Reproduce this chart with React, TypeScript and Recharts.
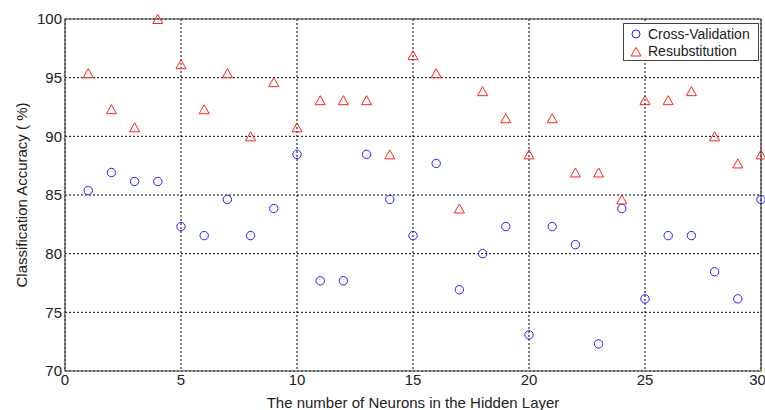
import {
  ScatterChart,
  Scatter,
  XAxis,
  YAxis,
  CartesianGrid,
  ReferenceArea,
} from "recharts";

const neurons = [
  1, 2, 3, 4, 5, 6, 7, 8, 9, 10, 11, 12, 13, 14, 15, 16, 17, 18, 19, 20, 21, 22,
  23, 24, 25, 26, 27, 28, 29, 30,
];

const crossValidation = [
  85.38, 86.92, 86.15, 86.15, 82.31, 81.54, 84.62, 81.54, 83.85, 88.46, 77.69,
  77.69, 88.46, 84.62, 81.54, 87.69, 76.92, 80.0, 82.31, 73.08, 82.31, 80.77,
  72.31, 83.85, 76.15, 81.54, 81.54, 78.46, 76.15, 84.62,
];

const resubstitution = [
  95.38, 92.31, 90.77, 100, 96.15, 92.31, 95.38, 90.0, 94.62, 90.77, 93.08,
  93.08, 93.08, 88.46, 96.92, 95.38, 83.85, 93.85, 91.54, 88.46, 91.54, 86.92,
  86.92, 84.62, 93.08, 93.08, 93.85, 90.0, 87.69, 88.46,
];

const xTicks = [0, 5, 10, 15, 20, 25, 30];
const yTicks = [70, 75, 80, 85, 90, 95, 100];

const FONT = "'Liberation Sans', Arial, sans-serif";
const BLUE = "#1f1fff";
const RED = "#ff1f1f";

const cvData = neurons.map((n, i) => ({ x: n, y: crossValidation[i] }));
const resubData = neurons.map((n, i) => ({ x: n, y: resubstitution[i] }));

function CircleMark(props: any) {
  const { cx, cy } = props;
  if (cx == null || cy == null) return null;
  return <circle cx={cx} cy={cy} r={4.2} fill="none" stroke={BLUE} strokeWidth={1} />;
}

function TriangleMark(props: any) {
  const { cx, cy } = props;
  if (cx == null || cy == null) return null;
  const w = 5;
  const h = 4.5;
  return (
    <path
      d={`M${cx},${cy - h} L${cx + w},${cy + h} L${cx - w},${cy + h} Z`}
      fill="none"
      stroke={RED}
      strokeWidth={1}
    />
  );
}

// legend drawn as an overlay so the chart doesn't reserve space for it
function LegendBox() {
  return (
    <div
      style={{
        position: "absolute",
        top: 23,
        left: 623,
        width: 136,
        height: 38,
        border: "1px solid #444",
        background: "#fff",
        boxSizing: "border-box",
      }}
    >
      <svg width={134} height={36} style={{ display: "block" }}>
        <circle cx={12} cy={10} r={4} fill="none" stroke={BLUE} />
        <text x={24} y={15} fontSize={14} fill="#222" fontFamily={FONT}>
          Cross-Validation
        </text>
        <path d="M12,23.5 L17,32 L7,32 Z" fill="none" stroke={RED} />
        <text x={24} y={32} fontSize={14} fill="#222" fontFamily={FONT}>
          Resubstitution
        </text>
      </svg>
    </div>
  );
}

export default function App() {
  return (
    <div
      style={{
        position: "relative",
        width: 765,
        height: 410,
        background: "#fff",
        overflow: "hidden",
      }}
    >
      <style>{`body{margin:0}`}</style>
      <ScatterChart
        width={765}
        height={410}
        margin={{ top: 19, right: 4, bottom: 0, left: 0 }}
      >
        <CartesianGrid stroke="#000" strokeDasharray="2 2" strokeWidth={1} />
        <XAxis
          type="number"
          dataKey="x"
          domain={[0, 30]}
          ticks={xTicks}
          height={39}
          tickSize={0}
          tickMargin={3}
          axisLine={false}
          tickLine={false}
          tick={{ fontSize: 15, fill: "#222", fontFamily: FONT }}
          label={{
            value: "The number of Neurons in the Hidden Layer",
            position: "insideBottom",
            offset: 2,
            fontSize: 15,
            fill: "#222",
            fontFamily: FONT,
          }}
        />
        <YAxis
          type="number"
          dataKey="y"
          domain={[70, 100]}
          ticks={yTicks}
          width={65}
          tickSize={0}
          tickMargin={3}
          axisLine={false}
          tickLine={false}
          tick={{ fontSize: 15, fill: "#222", fontFamily: FONT }}
          label={{
            value: "Classification Accuracy ( %)",
            angle: -90,
            position: "insideLeft",
            offset: 22,
            style: { textAnchor: "middle" },
            fontSize: 15,
            fill: "#222",
            fontFamily: FONT,
          }}
        />
        <ReferenceArea
          x1={0}
          x2={30}
          y1={70}
          y2={100}
          fill="none"
          fillOpacity={0}
          stroke="#444"
          strokeWidth={1.2}
          ifOverflow="visible"
        />
        <Scatter
          name="Cross-Validation"
          data={cvData}
          shape={CircleMark}
          isAnimationActive={false}
        />
        <Scatter
          name="Resubstitution"
          data={resubData}
          shape={TriangleMark}
          isAnimationActive={false}
        />
      </ScatterChart>
      <LegendBox />
    </div>
  );
}
